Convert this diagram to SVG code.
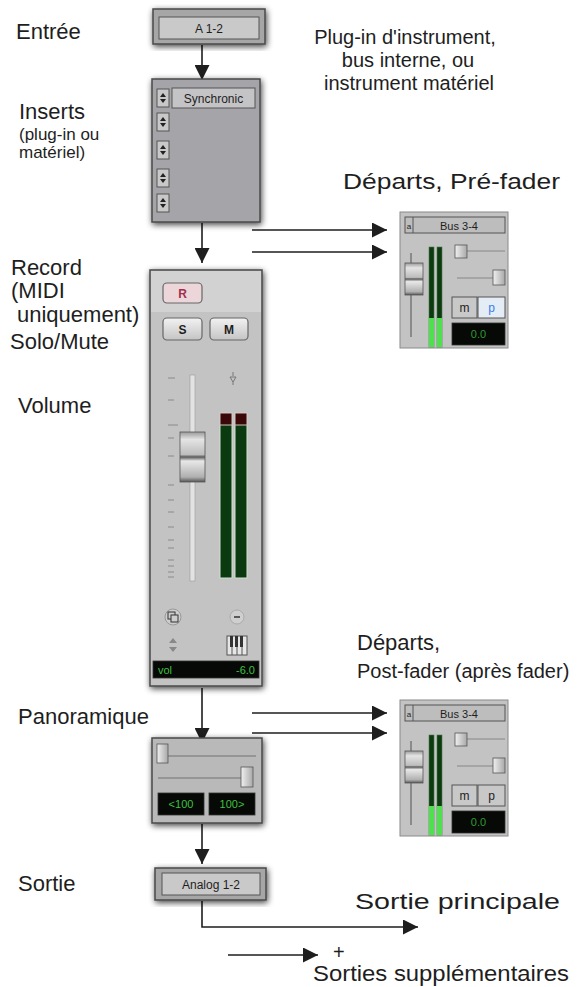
<svg xmlns="http://www.w3.org/2000/svg" width="579" height="987" viewBox="0 0 579 987">
<style>
.lbl{font-family:"Liberation Sans",Arial,sans-serif;font-size:22px;fill:#1e1e1e}
.sm{font-size:17px}
.mid{font-size:20px}
.ui{font-family:"Liberation Sans",Arial,sans-serif;font-size:12px;fill:#1e1e1e}
.ui11{font-size:11px}
.ui8{font-size:8px}
.conn{stroke:#1e1e1e;stroke-width:1.6;fill:none}
.frame{stroke:#4a4a4a;stroke-width:1.5}
.lcd{fill:#060906;stroke:#333;stroke-width:0.8}
.lcdt{font-family:"Liberation Sans",Arial,sans-serif;font-size:11px;fill:#3fc040}
.tick{stroke:#8a8a8a;stroke-width:1}
</style>
<defs>
<marker id="ah" markerUnits="userSpaceOnUse" markerWidth="15" markerHeight="15" refX="15" refY="7.5" orient="auto">
<path d="M0,0 L15,7.5 L0,15 Z" fill="#1e1e1e"/>
</marker>
<filter id="sh" x="-20%" y="-20%" width="140%" height="140%">
<feGaussianBlur in="SourceAlpha" stdDeviation="3"/>
<feOffset dx="1" dy="2" result="b"/>
<feComponentTransfer><feFuncA type="linear" slope="0.75"/></feComponentTransfer>
<feMerge><feMergeNode/><feMergeNode in="SourceGraphic"/></feMerge>
</filter>
<linearGradient id="cap" x1="0" y1="0" x2="0" y2="1">
<stop offset="0" stop-color="#9a9a9a"/><stop offset="0.15" stop-color="#e4e4e4"/><stop offset="0.45" stop-color="#bdbdbd"/><stop offset="0.5" stop-color="#5a5a5a"/><stop offset="0.58" stop-color="#e8e8e8"/><stop offset="0.9" stop-color="#b0b0b0"/><stop offset="1" stop-color="#555"/>
</linearGradient>
<linearGradient id="btng" x1="0" y1="0" x2="0" y2="1">
<stop offset="0" stop-color="#f2f2f2"/><stop offset="1" stop-color="#c4c4c4"/>
</linearGradient>
<linearGradient id="thumb" x1="0" y1="0" x2="1" y2="0">
<stop offset="0" stop-color="#f0f0f0"/><stop offset="1" stop-color="#a8a8a8"/>
</linearGradient>
<g id="ud">
<rect x="0" y="0" width="12" height="18" fill="#c8c8c8" stroke="#555" stroke-width="1"/>
<path d="M3,8 L6,4 L9,8 Z M3,10 L6,14 L9,10 Z" fill="#222"/>
</g>
<g id="send">
<rect x="0" y="0" width="108" height="136" fill="#c3c3c3" stroke="#8a8a8a" stroke-width="1"/>
<rect x="5" y="5" width="100" height="16" fill="#bdbdbd" stroke="#555" stroke-width="1"/>
<line x1="13" y1="5" x2="13" y2="21" stroke="#555" stroke-width="1"/>
<text x="9" y="16.5" class="ui ui8" text-anchor="middle">a</text>
<text x="59" y="17.5" class="ui ui11" text-anchor="middle" fill="#333">Bus 3-4</text>
<line x1="11" y1="41" x2="11" y2="125" stroke="#8a8a8a" stroke-width="2"/>
<rect x="5" y="51" width="18" height="32" fill="url(#cap)" stroke="#555" stroke-width="0.8"/>
<rect x="29" y="35" width="5" height="100" fill="#0d3a10" stroke="#4a7a4a" stroke-width="0.6"/>
<rect x="37" y="35" width="5" height="100" fill="#0d3a10" stroke="#4a7a4a" stroke-width="0.6"/>
<rect x="29" y="106" width="5" height="29" fill="#4ee04e"/>
<rect x="37" y="106" width="5" height="29" fill="#4ee04e"/>
<line x1="55" y1="39" x2="105" y2="39" stroke="#888" stroke-width="1.2"/>
<rect x="55" y="33" width="12" height="13" fill="url(#thumb)" stroke="#555" stroke-width="0.8"/>
<line x1="57" y1="66" x2="105" y2="66" stroke="#888" stroke-width="1.2"/>
<rect x="93" y="58" width="12" height="15" fill="url(#thumb)" stroke="#555" stroke-width="0.8"/>
<rect x="52" y="85" width="25" height="21" fill="#c8c8c8" stroke="#555" stroke-width="1"/>
<text x="64.5" y="100" class="ui" text-anchor="middle">m</text>
<rect x="52" y="111" width="53" height="22" class="lcd"/>
<text x="78.5" y="126" class="lcdt" text-anchor="middle" style="fill:#2f9a30">0.0</text>
</g>
</defs>

<g id="connectors">
<line class="conn" x1="202" y1="45" x2="202" y2="80" marker-end="url(#ah)"/>
<line class="conn" x1="202" y1="223" x2="202" y2="263" marker-end="url(#ah)"/>
<line class="conn" x1="252" y1="230" x2="387" y2="230" marker-end="url(#ah)"/>
<line class="conn" x1="252" y1="252" x2="387" y2="252" marker-end="url(#ah)"/>
<line class="conn" x1="202" y1="688" x2="202" y2="743" marker-end="url(#ah)"/>
<line class="conn" x1="252" y1="713" x2="387" y2="713" marker-end="url(#ah)"/>
<line class="conn" x1="252" y1="733" x2="387" y2="733" marker-end="url(#ah)"/>
<line class="conn" x1="202" y1="824" x2="202" y2="864" marker-end="url(#ah)"/>
<path class="conn" d="M202,901 V927 H418" marker-end="url(#ah)"/>
<line class="conn" x1="228" y1="955" x2="318" y2="955" marker-end="url(#ah)"/>
</g>

<g id="input">
<rect x="153" y="9" width="112" height="35" fill="#a6a6a6" class="frame" filter="url(#sh)"/>
<rect x="159" y="17" width="100" height="22" fill="#c9c9c9" stroke="#555" stroke-width="1"/>
<text x="209" y="32.5" class="ui" text-anchor="middle">A 1-2</text>
</g>

<g id="inserts">
<rect x="152" y="79" width="108" height="143" fill="#a4a4a9" class="frame" filter="url(#sh)"/>
<rect x="172" y="88" width="83" height="20" fill="#c4c4c6" stroke="#555" stroke-width="1"/>
<text x="213.5" y="102.5" class="ui" text-anchor="middle">Synchronic</text>
<use href="#ud" x="157" y="89"/>
<use href="#ud" x="157" y="113"/>
<use href="#ud" x="157" y="141"/>
<use href="#ud" x="157" y="169"/>
<use href="#ud" x="157" y="194"/>
</g>

<g id="channel">
<rect x="150" y="270" width="112" height="416" fill="#c3c3c3" class="frame" filter="url(#sh)"/>
<rect x="151" y="271" width="110" height="41" fill="#d2d2d2"/>
<rect x="163" y="283" width="39" height="20" rx="4" fill="#ecd6da" stroke="#666" stroke-width="1.2"/>
<text x="182.5" y="298" class="ui" font-weight="bold" text-anchor="middle" style="fill:#a0304a">R</text>
<rect x="163" y="318" width="39" height="22" rx="4" fill="url(#btng)" stroke="#666" stroke-width="1.2"/>
<text x="182.5" y="334" class="ui" font-weight="bold" text-anchor="middle">S</text>
<rect x="210" y="318" width="38" height="22" rx="4" fill="url(#btng)" stroke="#666" stroke-width="1.2"/>
<text x="229" y="334" class="ui" font-weight="bold" text-anchor="middle">M</text>
<g>
<line class="tick" x1="168" y1="378" x2="175" y2="378"/>
<line class="tick" x1="168" y1="400" x2="174" y2="400"/>
<line class="tick" x1="168" y1="425" x2="178" y2="425"/>
<line class="tick" x1="168" y1="438" x2="174" y2="438"/>
<line class="tick" x1="168" y1="456" x2="174" y2="456"/>
<line class="tick" x1="168" y1="485" x2="174" y2="485"/>
<line class="tick" x1="168" y1="500" x2="174" y2="500"/>
<line class="tick" x1="168" y1="512" x2="174" y2="512"/>
<line class="tick" x1="168" y1="527" x2="174" y2="527"/>
<line class="tick" x1="168" y1="540" x2="174" y2="540"/>
<line class="tick" x1="168" y1="548" x2="174" y2="548"/>
<line class="tick" x1="168" y1="560" x2="174" y2="560"/>
<line class="tick" x1="168" y1="566" x2="174" y2="566"/>
<line class="tick" x1="168" y1="572" x2="174" y2="572"/>
<line class="tick" x1="168" y1="577" x2="174" y2="577"/>
</g>
<rect x="190" y="375" width="5" height="206" fill="#e2e2e2" stroke="#9a9a9a" stroke-width="0.6"/>
<rect x="180" y="432" width="25" height="50" fill="url(#cap)" stroke="#555" stroke-width="0.8"/>
<path d="M233,372 V376 M230,377 H236 L233,382 Z M233,382 V385" stroke="#777" stroke-width="1" fill="none"/>
<rect x="220" y="413" width="12" height="165" fill="#0b3a10" stroke="#cfe0cf" stroke-width="1"/>
<rect x="235" y="413" width="12" height="165" fill="#0b3a10" stroke="#cfe0cf" stroke-width="1"/>
<rect x="220" y="413" width="12" height="12" fill="#3a0808" stroke="#cfc0c0" stroke-width="1"/>
<rect x="235" y="413" width="12" height="12" fill="#3a0808" stroke="#cfc0c0" stroke-width="1"/>
<circle cx="173" cy="617" r="8" fill="#cdcdcd" stroke="#999" stroke-width="1"/>
<rect x="168" y="612" width="7" height="7" fill="none" stroke="#333" stroke-width="1"/>
<rect x="171" y="615" width="7" height="7" fill="#cdcdcd" stroke="#333" stroke-width="1"/>
<circle cx="237" cy="617" r="7" fill="#cfcfcf" stroke="#aaa" stroke-width="1"/>
<line x1="234" y1="617" x2="240" y2="617" stroke="#333" stroke-width="1.5"/>
<path d="M169,643 L173,638 L177,643 Z M169,647 L173,652 L177,647 Z" fill="#888"/>
<rect x="227" y="636" width="20" height="19" fill="#e6e6e6" stroke="#555" stroke-width="1"/>
<path d="M232,636 V655 M237,636 V655 M242,636 V655" stroke="#555" stroke-width="1"/>
<rect x="230" y="636" width="3" height="11" fill="#333"/>
<rect x="235" y="636" width="3" height="11" fill="#333"/>
<rect x="240" y="636" width="3" height="11" fill="#333"/>
<rect x="153" y="661" width="106" height="17" class="lcd"/>
<text x="158" y="674" class="lcdt">vol</text>
<text x="255" y="674" class="lcdt" text-anchor="end">-6.0</text>
</g>

<g id="pan">
<rect x="152" y="738" width="110" height="85" fill="#b9b9b9" class="frame" filter="url(#sh)"/>
<line x1="160" y1="756" x2="256" y2="756" stroke="#8a8a8a" stroke-width="1.5"/>
<rect x="157" y="744" width="11" height="19" fill="url(#thumb)" stroke="#555" stroke-width="0.8"/>
<line x1="158" y1="778" x2="250" y2="778" stroke="#8a8a8a" stroke-width="1.5"/>
<rect x="241" y="767" width="12" height="20" fill="url(#thumb)" stroke="#555" stroke-width="0.8"/>
<rect x="158" y="793" width="46" height="22" class="lcd"/>
<rect x="209" y="793" width="46" height="22" class="lcd"/>
<text x="181" y="808" class="lcdt" text-anchor="middle">&lt;100</text>
<text x="232" y="808" class="lcdt" text-anchor="middle">100&gt;</text>
</g>

<g id="output">
<rect x="155" y="868" width="111" height="32" fill="#a6a6a6" class="frame" filter="url(#sh)"/>
<rect x="162" y="873" width="98" height="22" fill="#c9c9c9" stroke="#555" stroke-width="1"/>
<text x="211" y="888.5" class="ui" text-anchor="middle">Analog 1-2</text>
</g>

<g id="send-pre">
<use href="#send" x="400" y="212"/>
<rect x="478" y="297" width="27" height="21" fill="#e4ecf6" stroke="#555" stroke-width="1"/>
<text x="491.5" y="312" class="ui" text-anchor="middle" style="fill:#3a7ee8">p</text>
</g>

<g id="send-post">
<use href="#send" x="400" y="700"/>
<rect x="478" y="785" width="27" height="21" fill="#c8c8c8" stroke="#555" stroke-width="1"/>
<text x="491.5" y="800" class="ui" text-anchor="middle">p</text>
</g>

<g id="labels">
<text x="16" y="39" class="lbl">Entrée</text>
<text x="19" y="119" class="lbl">Inserts</text>
<text x="19" y="140" class="lbl sm">(plug-in ou</text>
<text x="19" y="158" class="lbl sm">matériel)</text>
<text x="405" y="44" class="lbl mid" text-anchor="middle">Plug-in d'instrument,</text>
<text x="408" y="67" class="lbl mid" text-anchor="middle">bus interne, ou</text>
<text x="409" y="90" class="lbl mid" text-anchor="middle">instrument matériel</text>
<text x="343" y="189" class="lbl" textLength="217" lengthAdjust="spacingAndGlyphs">Départs, Pré-fader</text>
<text x="11" y="275" class="lbl">Record</text>
<text x="11" y="298" class="lbl">(MIDI</text>
<text x="17" y="322" class="lbl">uniquement)</text>
<text x="10" y="349" class="lbl">Solo/Mute</text>
<text x="18" y="413" class="lbl">Volume</text>
<text x="357" y="650" class="lbl">Départs,</text>
<text x="357" y="678" class="lbl mid">Post-fader (après fader)</text>
<text x="18" y="724" class="lbl">Panoramique</text>
<text x="18" y="891" class="lbl">Sortie</text>
<text x="355" y="909" class="lbl" textLength="205" lengthAdjust="spacingAndGlyphs">Sortie principale</text>
<text x="333" y="959" class="lbl mid">+</text>
<text x="313" y="981" class="lbl" textLength="256" lengthAdjust="spacingAndGlyphs">Sorties supplémentaires</text>
</g>
</svg>
